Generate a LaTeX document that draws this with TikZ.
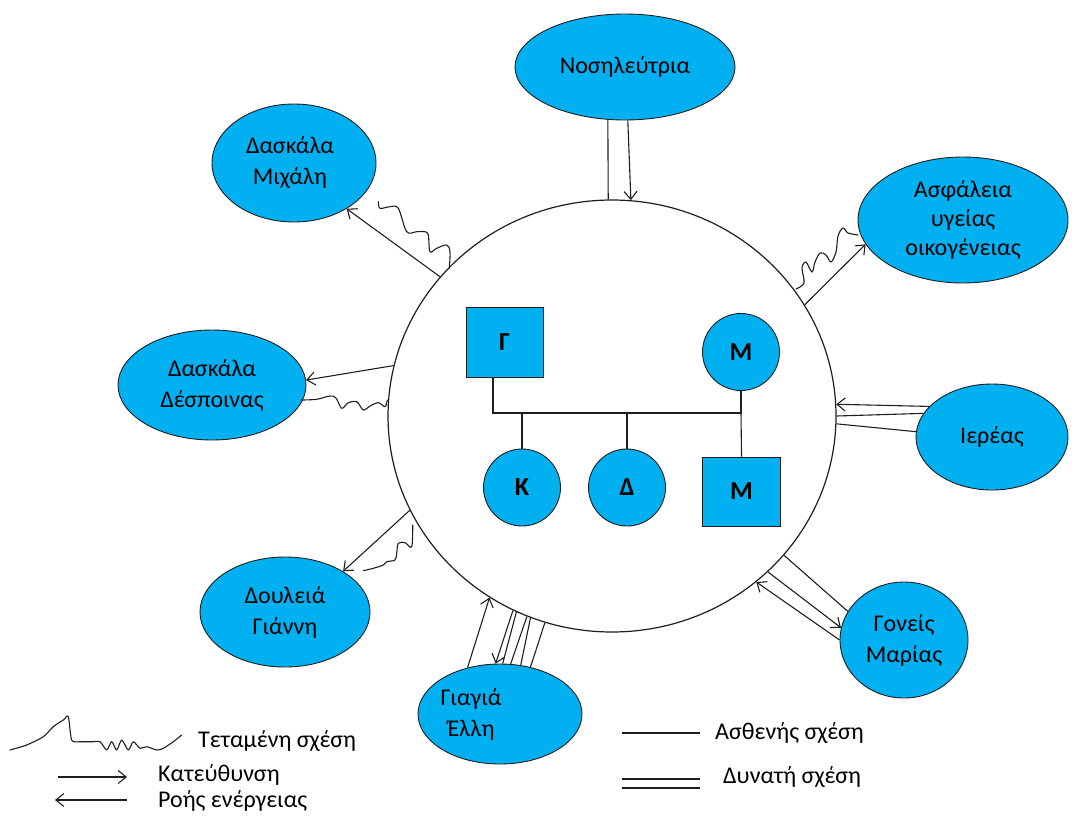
\documentclass[tikz,border=0pt]{standalone}
\usepackage{fontspec}
\setmainfont{Carlito}
\usetikzlibrary{shapes.geometric,arrows.meta}
\definecolor{ecofill}{RGB}{0,176,240}
\definecolor{ink}{RGB}{30,30,30}
\begin{document}
\begin{tikzpicture}[x=1pt,y=-1pt,
  party/.style={ellipse, draw=ink, line width=0.9pt, fill=ecofill, inner sep=0pt, align=center,
                font=\fontsize{24}{31}\selectfont},
  famsq/.style={rectangle, draw=ink, line width=0.9pt, fill=ecofill, inner sep=0pt,
                font=\fontsize{26}{30}\selectfont\bfseries},
  famci/.style={circle, draw=ink, line width=0.9pt, fill=ecofill, inner sep=0pt,
                minimum size=77pt, font=\fontsize{26}{30}\selectfont\bfseries},
  link/.style={line width=1.1pt, draw=ink},
  toarr/.style={link, -{Straight Barb[length=8pt,width=13pt]}},
  scribble/.style={line width=1.1pt, draw=ink, line join=round, line cap=round},
  legend/.style={anchor=west, inner sep=0pt, font=\fontsize{24}{28}\selectfont}]

\useasboundingbox (0,0) rectangle (1075,816);

% household boundary
\node[ellipse, draw=ink, line width=1.2pt, inner sep=0pt,
      minimum width=448pt, minimum height=432pt] (ring) at (612,416) {};

% outside systems
\node[party, minimum width=220pt, minimum height=106pt] (nurse) at (625,67) {Νοσηλεύτρια};
\node[party, minimum width=164pt, minimum height=118pt] (mich) at (294,163)
  {\hspace*{-8pt}Δασκάλα\\\hspace*{-8pt}Μιχάλη};
\node[party, minimum width=210pt, minimum height=126pt, font=\fontsize{24}{29}\selectfont]
  (ins) at (963,220) {Ασφάλεια\\υγείας\\οικογένειας};
\node[party, minimum width=188pt, minimum height=110pt] (desp) at (212,385) {Δασκάλα\\Δέσποινας};
\node[party, minimum width=152pt, minimum height=106pt] (priest) at (992,437) {Ιερέας};
\node[party, minimum width=170pt, minimum height=110pt] (job) at (285,612) {Δουλειά\\Γιάννη};
\node[party, minimum width=164pt, minimum height=100pt,
      label={[xshift=-29pt, align=center, font=\fontsize{24}{31}\selectfont]center:Γιαγιά\\Έλλη}]
  (gran) at (500,714) {};
\node[party, minimum width=128pt, minimum height=116pt] (parents) at (904,640) {Γονείς\\Μαρίας};

% genogram
\node[famsq, minimum width=77pt, minimum height=70pt] (fa) at (504.5,342) {Γ};
\node[famci] (mo) at (741,352) {Μ};
\node[famci] (ka) at (522,487.5) {Κ};
\node[famci] (de) at (627,487.5) {Δ};
\node[famsq, minimum width=78pt, minimum height=69pt] (ms) at (741.5,491.5) {Μ};
\coordinate (barW) at (493,413);
\coordinate (barE) at (741,413);
\draw[link] (fa.south -| barW) -- (barW) -- (barE) -- (mo.south);
\draw[link] (barE) -- (ms.north);
\draw[link] (ka.north) -- (ka.north |- barW);
\draw[link] (de.north) -- (de.north |- barW);

% nurse: strong tie plus energy towards the family
\draw[link] (nurse.252.5) -- (ring.91.1);
\draw[toarr] (nurse.273.2) -- (ring.85.8);

% teacher of Michalis
\draw[toarr] (ring.141.6) -- (mich.319.7);
\draw[scribble] plot[smooth, tension=0.55] coordinates {
  (378.3,201.7) (380,208.3) (390,206.7) (398.3,208.3) (406.7,231.7) (416.7,231.7)
  (425,231.7) (428.3,235) (430,251.7) (436.7,248.3) (446.7,245) (450,251.7) (449.3,268.3)};

% family health insurance
\draw[toarr] (ring.30.3) -- (ins.194.9);
\draw[scribble] plot[smooth, tension=0.55] coordinates {
  (796,289) (804,283) (802,268) (806,262) (812,272) (815,262) (820,253) (826,255)
  (831,262) (836,252) (838,236) (843,228) (848,233) (858,235)};

% teacher of Despoina
\draw[toarr] (ring.167.6) -- (desp.3.8);
\draw[scribble] plot[smooth, tension=0.55] coordinates {
  (301.7,400) (316.7,399.3) (330,396) (336,398) (341.7,408.3) (348,403) (356.7,401.7)
  (363.3,410) (370,406) (378.3,402.7) (385,406.7) (387.3,400)};

% priest
\draw[toarr] (priest.154.1) -- (ring.3.6);
\draw[link] (priest.161.8) -- (ring.0.5);
\draw[link] (priest.176.9) -- (ring.358);

% Giannis' work
\draw[toarr] (ring.205.5) -- (job.35.6);
\draw[scribble] plot[smooth, tension=0.55] coordinates {
  (412.7,525) (411.7,546.7) (405,542.7) (398.3,543.3) (396.7,553.3) (395,560)
  (386.7,561.7) (383.3,565) (373.3,568.3) (363.3,570.7)};

% grandmother Elli
\draw[toarr] (gran.125.7) -- (ring.236.7);
\draw[toarr] (ring.243.3) -- (gran.95.6);
\draw[link] (ring.244.7) -- (gran.87.7);
\draw[link] (ring.247.1) -- (gran.78.5);
\draw[link] (ring.248.8) -- (gran.67.4);
\draw[link] (ring.252.1) -- (gran.57.4);

% Maria's parents
\draw[link] (ring.321.2) -- (parents.153.4);
\draw[toarr] (ring.315.7) -- (parents.169.4);
\draw[toarr] (parents.180.9) -- (ring.311.7);

% legend
\draw[scribble] plot[smooth, tension=0.45] coordinates {
  (10,750) (26.7,745) (43.3,736.7) (53.3,726.7) (63.3,720) (68.3,716.7) (71.7,740)
  (80,741.7) (93.3,741.7) (100,741.7) (106.7,750) (111.7,741.7) (116.7,750) (121.7,740)
  (128.3,750) (133.3,741.7) (140,748.3) (146.7,746.7) (156.7,750) (163.3,748.3)
  (173.3,741.7) (181.7,735)};
\node[legend] (lt) at (198,741) {Τεταμένη σχέση};
\draw[toarr] (58,777) -- (127,777);
\node[legend] (ld) at (158,775) {Κατεύθυνση};
\draw[toarr] (127,800) -- (55,800);
\node[legend] (le) at (158,801) {Ροής ενέργειας};
\draw[link] (622,733) -- (700,733);
\node[legend] (lw) at (715,733) {Ασθενής σχέση};
\draw[link] (622,779) -- (700,779);
\draw[link] (622,788) -- (700,788);
\node[legend] (ls) at (723,777) {Δυνατή σχέση};
\end{tikzpicture}
\end{document}
